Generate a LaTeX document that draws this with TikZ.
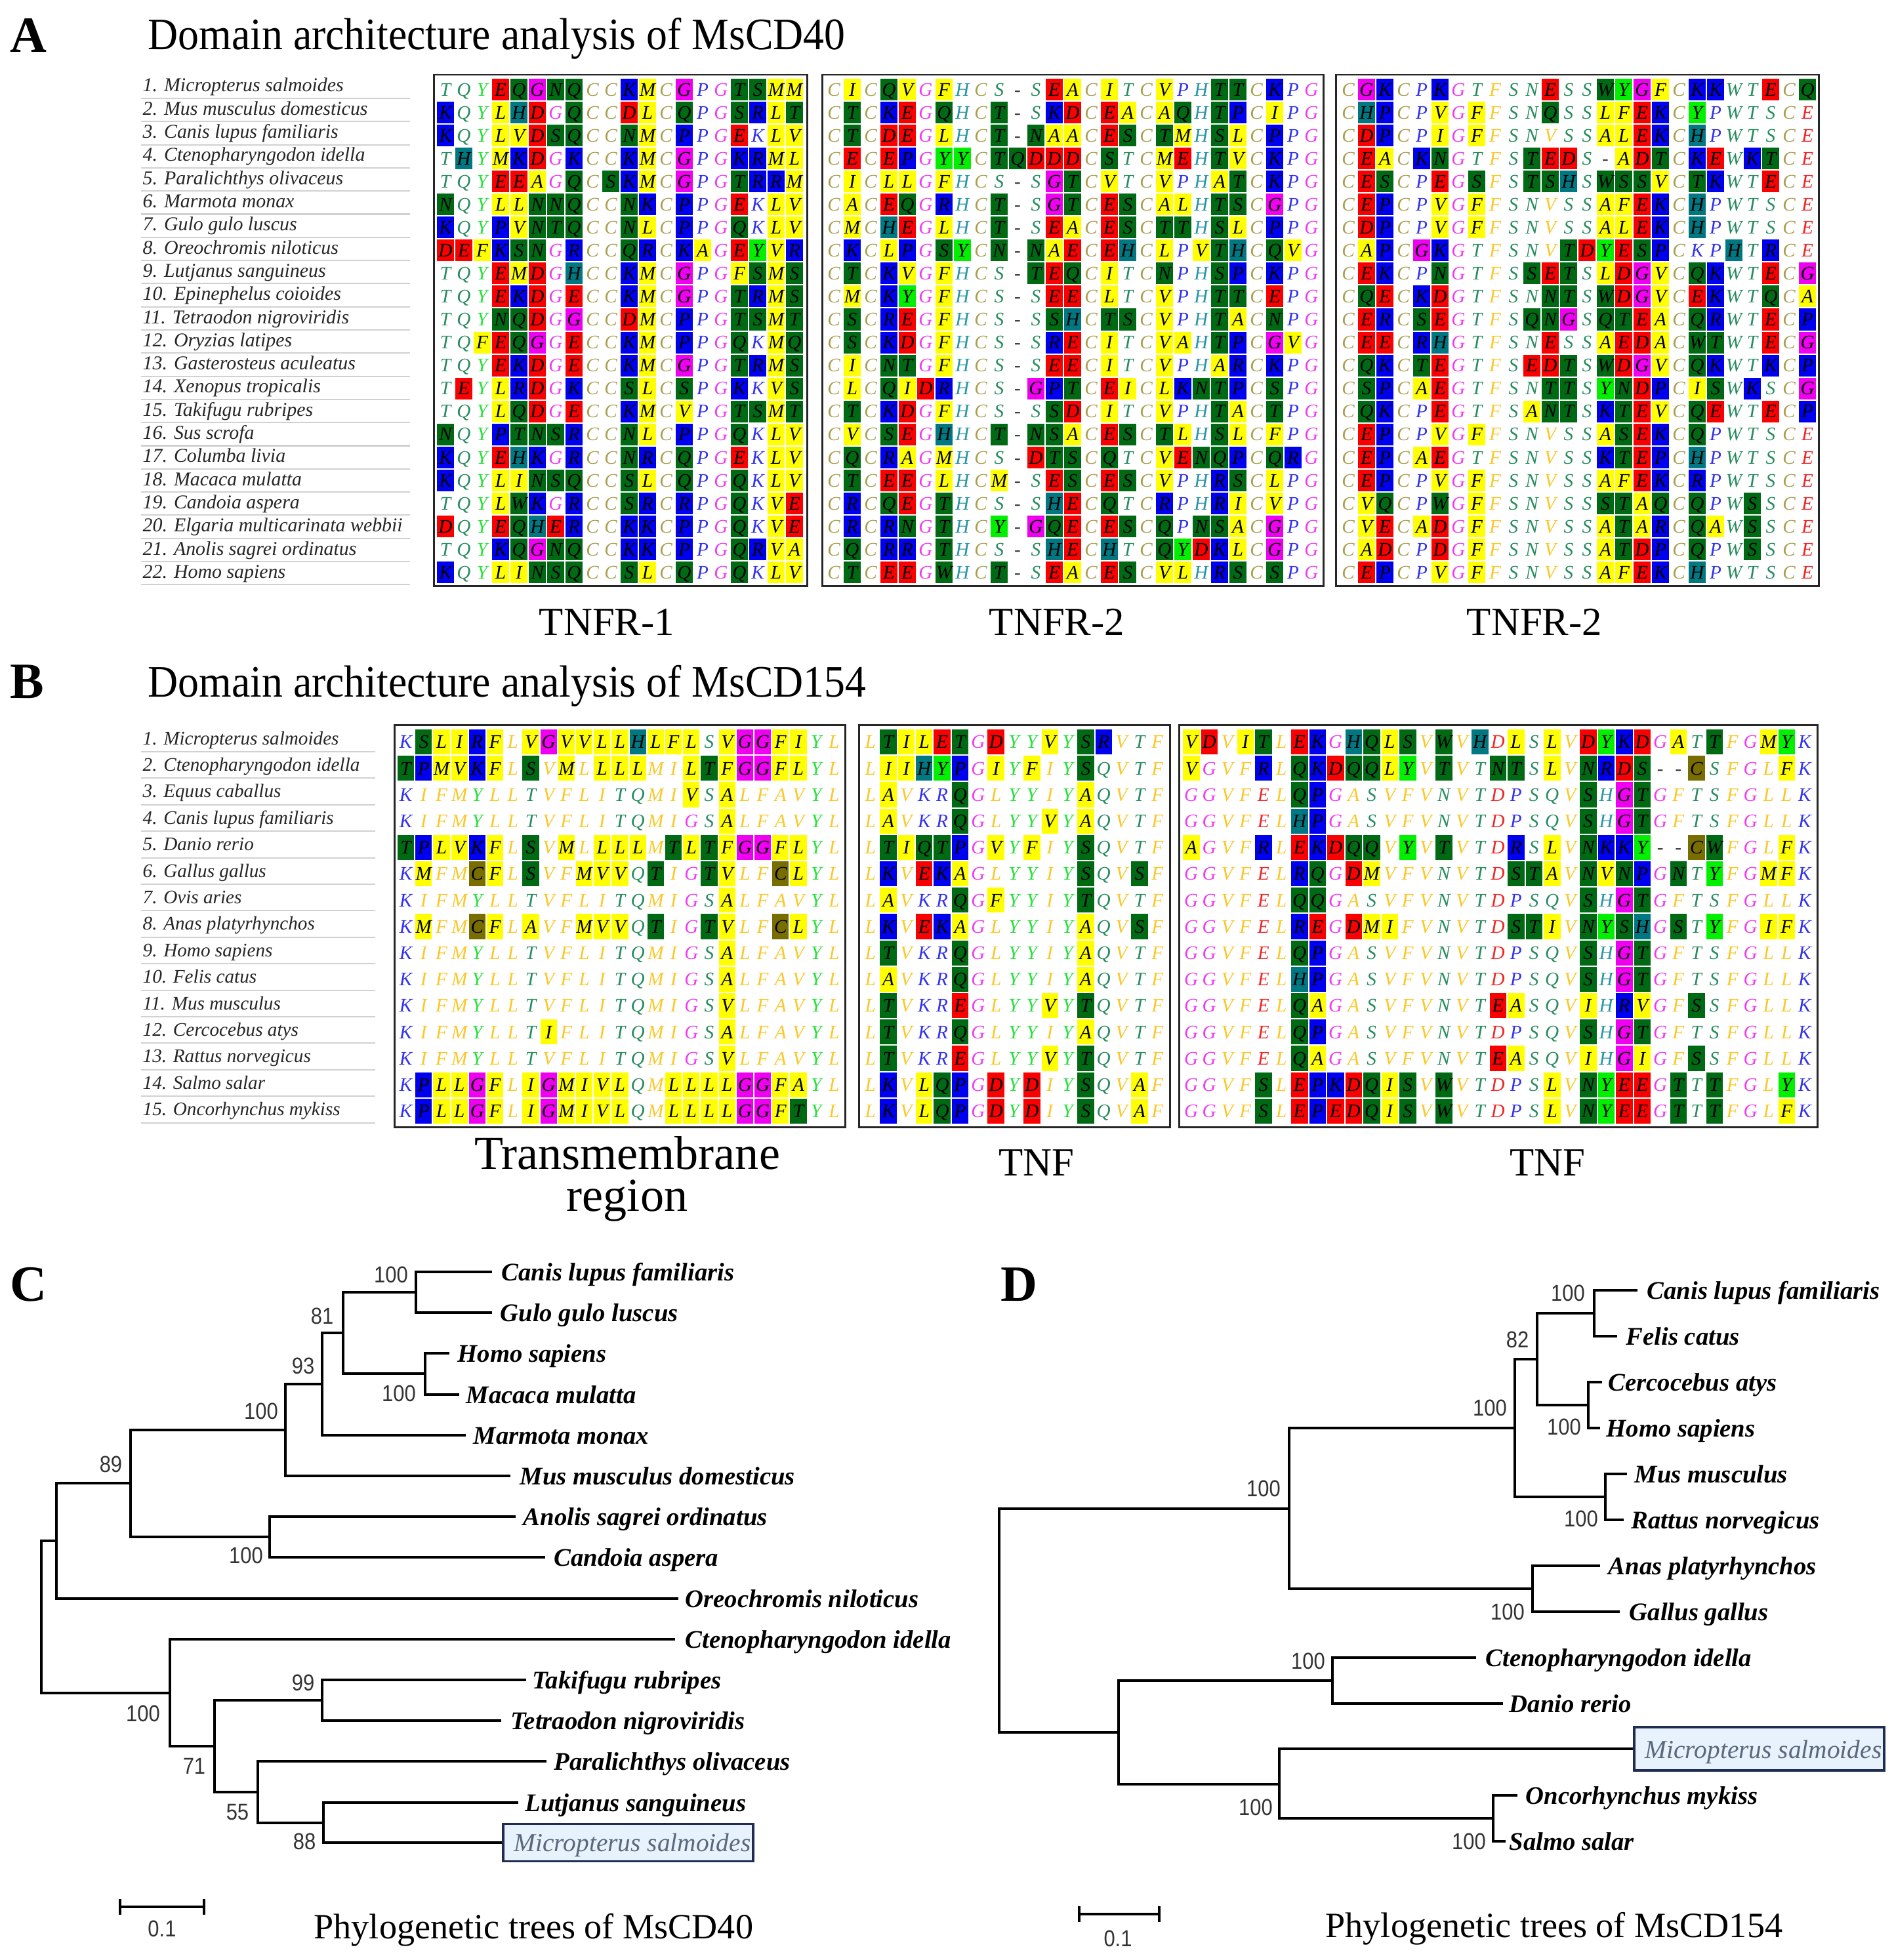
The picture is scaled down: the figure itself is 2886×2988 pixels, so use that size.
\documentclass[tikz,border=0pt]{standalone}
\usepackage{fontspec}
\setmainfont{Liberation Serif}
\setsansfont{Liberation Sans}
\usepackage{graphicx}

% residue text colours
\definecolor{rcHyd}{RGB}{250,200,40}
\definecolor{rcPol}{RGB}{40,140,95}
\definecolor{rcTyr}{RGB}{40,225,60}
\definecolor{rcHis}{RGB}{40,150,165}
\definecolor{rcBas}{RGB}{50,50,240}
\definecolor{rcAci}{RGB}{240,40,40}
\definecolor{rcGly}{RGB}{240,60,240}
\definecolor{rcCys}{RGB}{170,160,80}
\definecolor{rcGap}{RGB}{60,60,60}
% background colours
\definecolor{bgY}{RGB}{255,255,0}
\definecolor{bgG}{RGB}{0,105,20}
\definecolor{bgB}{RGB}{0,0,240}
\definecolor{bgR}{RGB}{250,0,0}
\definecolor{bgM}{RGB}{240,0,240}
\definecolor{bgL}{RGB}{0,240,0}
\definecolor{bgT}{RGB}{0,120,130}
\definecolor{bgO}{RGB}{120,110,0}
\definecolor{msEdge}{RGB}{30,45,80}
\definecolor{msFill}{RGB}{232,242,252}
\definecolor{msText}{RGB}{90,104,124}

\def\setrc#1#2{\expandafter\def\csname rcc#1\endcsname{#2}}
\setrc{A}{rcHyd}\setrc{V}{rcHyd}\setrc{L}{rcHyd}\setrc{I}{rcHyd}\setrc{M}{rcHyd}\setrc{F}{rcHyd}
\setrc{S}{rcPol}\setrc{T}{rcPol}\setrc{N}{rcPol}\setrc{Q}{rcPol}\setrc{W}{rcPol}
\setrc{Y}{rcTyr}\setrc{H}{rcHis}\setrc{K}{rcBas}\setrc{R}{rcBas}\setrc{P}{rcBas}
\setrc{D}{rcAci}\setrc{E}{rcAci}\setrc{G}{rcGly}\setrc{C}{rcCys}\setrc{-}{rcGap}
\def\setbg#1#2{\expandafter\def\csname bgc#1\endcsname{#2}}
\setbg{y}{bgY}\setbg{g}{bgG}\setbg{b}{bgB}\setbg{r}{bgR}\setbg{m}{bgM}\setbg{l}{bgL}\setbg{t}{bgT}\setbg{o}{bgO}

\newcommand\alsetblock[5]{\def\bkx{#1}\def\bky{#2}\def\bkw{#3}\def\bkh{#4}\def\bkn{#5}}
\newcount\alcolc
\def\alrow#1#2#3{\global\alcolc=0 \def\alcurrow{#1}\alloop#2\relax#3\relax}
\def\alloop#1#2\relax#3#4\relax{%
  \alcell{#1}{#3}%
  \global\advance\alcolc by 1
  \def\altmp{#2}%
  \ifx\altmp\empty\let\alnext\relax\else\def\alnext{\alloop#2\relax#4\relax}\fi
  \alnext}
\def\alcell#1#2{%
  \pgfmathsetmacro\alx{\bkx+\bkw*\the\alcolc}%
  \pgfmathsetmacro\aly{\bky+\bkh*(\alcurrow-1)}%
  \edef\alnm{\bkn-\alcurrow-\the\alcolc}%
  \if#2.\relax
    \edef\altc{\csname rcc#1\endcsname}%
  \else
    \edef\altb{\csname bgc#2\endcsname}%
    \fill[fill=\altb] (\alx+1,\aly+1) rectangle (\alx+\bkw-1,\aly+\bkh-1);%
    \def\altc{black}%
  \fi
  \node[alletter,text=\altc,anchor=base] (\alnm) at (\alx+\bkw/2,\aly+\bkh/2+9.7) {#1};%
}
\newcommand\bsv[1]{\scalebox{0.88}[1]{#1}}

\begin{document}
\begin{tikzpicture}[x=0.01cm,y=-0.01cm,
  alletter/.style={inner sep=0pt,font=\fontsize{8.3}{9}\selectfont\itshape},
  alnameA/.style={inner sep=0pt,anchor=base west,font=\fontsize{8.5}{10}\selectfont\itshape,text=black!85},
  alnameB/.style={inner sep=0pt,anchor=base west,font=\fontsize{8.3}{10}\selectfont\itshape,text=black!85},
  sepline/.style={draw=black!18,line width=0.6pt},
  albox/.style={draw=black!85,line width=0.85pt},
  tree/.style={line width=1pt,draw=black},
  leaf/.style={inner sep=0pt,anchor=base west,font=\fontsize{11}{13}\selectfont\bfseries\itshape},
  boot/.style={inner sep=0pt,font=\fontsize{10}{12}\selectfont\sffamily,text=black!80},
  panel/.style={inner sep=0pt,anchor=base west,font=\fontsize{22}{24}\selectfont\bfseries},
  title/.style={inner sep=0pt,anchor=base west,font=\fontsize{19.5}{22}\selectfont},
  blab/.style={inner sep=0pt,anchor=base,font=\fontsize{17.3}{20}\selectfont},
  tmlab/.style={inner sep=0pt,anchor=base,align=center,font=\fontsize{20.5}{18.2}\selectfont},
  treecaption/.style={inner sep=0pt,anchor=base west,font=\fontsize{15.4}{18}\selectfont},
  msbox/.style={draw=msEdge,fill=msFill,line width=1pt,inner sep=0pt,minimum width=3.81cm},
  mstext/.style={inner sep=0pt,anchor=base west,font=\fontsize{11.2}{13}\selectfont\itshape,text=msText}]
\fill[white] (0,0) rectangle (2886,2988);
\useasboundingbox (0,0) rectangle (2886,2988);

% ================= Panel A =================
\node[panel] (pA) at (15,80) {A};
\node[title] (tA) at (225,76) {\scalebox{0.93}[1]{Domain architecture analysis of MsCD40}};
\foreach \nm [count=\i] in {Micropterus salmoides,Mus musculus domesticus,Canis lupus familiaris,Ctenopharyngodon idella,Paralichthys olivaceus,Marmota monax,Gulo gulo luscus,Oreochromis niloticus,Lutjanus sanguineus,Epinephelus coioides,Tetraodon nigroviridis,Oryzias latipes,Gasterosteus aculeatus,Xenopus tropicalis,Takifugu rubripes,Sus scrofa,Columba livia,Macaca mulatta,Candoia aspera,Elgaria multicarinata webbii,Anolis sagrei ordinatus,Homo sapiens}{
  \node[alnameA] (nA\i) at (217,{140+35.3*(\i-1)}) {\i. \nm};
  \draw[sepline] (215,{150+35.3*(\i-1)}) -- (625,{150+35.3*(\i-1)});
}

\alsetblock{665}{119}{28.0}{35.05}{Aa}
\alrow{1}{TQYEQGNQCCKMCGPGTSMM}{...rgmgg..by.m..ggyy}
\alrow{2}{KQYLHDGQCCDLCQPGSRLT}{b..ytr.g..ry.g..gbyg}
\alrow{3}{KQYLVDSQCCNMCPPGEKLV}{b..yyrgg..gy.b..r.yy}
\alrow{4}{THYMKDGKCCKMCGPGKRML}{.t.ybr.b..by.m..bbyy}
\alrow{5}{TQYEEAGQCSKMCGPGTRRM}{...rry.g.gby.m..gbby}
\alrow{6}{NQYLLNNQCCNKCPPGEKLV}{g..yyggg..gb.b..r.yy}
\alrow{7}{KQYPVNTQCCNLCPPGQKLV}{b..byggg..gy.b..g.yy}
\alrow{8}{DEFKSNGRCCQRCKAGEYVR}{rrybgg.b..gb.by.rlyb}
\alrow{9}{TQYEMDGHCCKMCGPGFSMS}{...ryr.t..by.m..ygyg}
\alrow{10}{TQYEKDGECCKMCGPGTRMS}{...rbr.r..by.m..gbyg}
\alrow{11}{TQYNQDGGCCDMCPPGTSMT}{...ggr.m..ry.b..ggyg}
\alrow{12}{TQFEQGGECCKMCPPGQKMQ}{..yrgm.r..by.b..g.yg}
\alrow{13}{TQYEKDGECCKMCGPGTRMS}{...rbr.r..by.m..gbyg}
\alrow{14}{TEYLRDGKCCSLCSPGKKVS}{.r.ybr.b..gy.g..b.yg}
\alrow{15}{TQYLQDGECCKMCVPGTSMT}{...ygr.r..by.y..ggyg}
\alrow{16}{NQYPTNSRCCNLCPPGQKLV}{g..bgggb..gy.b..g.yy}
\alrow{17}{KQYEHKGRCCNRCQPGEKLV}{b..rtb.b..gb.g..r.yy}
\alrow{18}{KQYLINSQCCSLCQPGQKLV}{b..yyggg..gy.g..g.yy}
\alrow{19}{TQYLWKGRCCSRCRPGQKVE}{...ygb.b..gb.b..g.yr}
\alrow{20}{DQYEQHERCCKKCPPGQKVE}{r..rgtrb..bb.b..g.yr}
\alrow{21}{TQYKQGNQCCKKCPPGQRVA}{...bgmgg..bb.b..gbyy}
\alrow{22}{KQYLINSQCCSLCQPGQKLV}{b..yyggg..gy.g..g.yy}
\draw[albox] (661,114) rectangle (1230,893);

\alsetblock{1257}{119}{28.0}{35.05}{Ab}
\alrow{1}{CICQVGFHCS-SEACITCVPHTTCKPG}{.y.gy.y.....ry.y..y..gg.b..}
\alrow{2}{CTCKEGQHCT-SKDCEACAQHTPCIPG}{.g.br.g..g..br.ry.yg.gb.y..}
\alrow{3}{CTCDEGLHCT-NAACESCTMHSLCPPG}{.g.rr.y..g.gyy.rg.gy.gy.b..}
\alrow{4}{CECEPGYYCTQDDDCSTCMEHTVCKPG}{.r.rb.ll.ggrrr.g..yr.gy.b..}
\alrow{5}{CICLLGFHCS-SGTCVTCVPHATCKPG}{.y.yy.y.....mg.y..y..yg.b..}
\alrow{6}{CACEQGRHCT-SGTCESCALHTSCGPG}{.y.rg.b..g..mg.rg.yy.gg.m..}
\alrow{7}{CMCHEGLHCT-SEACESCTTHSLCPPG}{.y.tr.y..g..ry.rg.gg.gy.b..}
\alrow{8}{CKCLPGSYCN-NAECEHCLPVTHCQVG}{.b.yb.gl.g.gyr.rt.y.ygt.gy.}
\alrow{9}{CTCKVGFHCS-TEQCITCNPHSPCKPG}{.g.by.y....grg.y..g..gb.b..}
\alrow{10}{CMCKYGFHCS-SEECLTCVPHTTCEPG}{.y.bl.y.....rr.y..y..gg.r..}
\alrow{11}{CSCREGFHCS-SSHCTSCVPHTACNPG}{.g.br.y.....gt.gg.y..gy.g..}
\alrow{12}{CSCKDGFHCS-SRECITCVAHTPCGVG}{.g.br.y.....br.y..yy.gb.my.}
\alrow{13}{CICNTGFHCS-SEECITCVPHARCKPG}{.y.gg.y.....rr.y..y..yb.b..}
\alrow{14}{CLCQIDRHCS-GPTCEICLKNTPCSPG}{.y.gyrb....mbg.ry.ybggb.g..}
\alrow{15}{CTCKDGFHCS-SSDCITCVPHTACTPG}{.g.br.y.....gr.y..y..gy.g..}
\alrow{16}{CVCSEGHHCT-NSACESCTLHSLCFPG}{.y.gr.t..g.ggy.rg.gy.gy.y..}
\alrow{17}{CQCRAGMHCS-DTSCQTCVENQPCQRG}{.g.by.y....rgg.g..yrggb.gb.}
\alrow{18}{CTCEEGLHCM-SESCESCVPHRSCLPG}{.g.rr.y..y..rg.rg.y..bg.y..}
\alrow{19}{CRCQEGTHCS-SHECQTCRPHRICVPG}{.b.gr.g.....tr.g..b..by.y..}
\alrow{20}{CRCRNGTHCY-GQECESCQPNSACGPG}{.b.bg.g..l.mgr.rg.g.ggy.m..}
\alrow{21}{CQCRRGTHCS-SHECHTCQYDKLCGPG}{.g.bb.g.....tr.t..glrby.m..}
\alrow{22}{CTCEEGWHCT-SEACESCVLHRSCSPG}{.g.rr.g..g..ry.rg.yy.bg.g..}
\draw[albox] (1253,114) rectangle (2017,893);

\alsetblock{2041}{119}{28.0}{35.05}{Ac}
\alrow{1}{CGKCPKGTFSNESSWYGFCKKWTECQ}{.mb..b.....r..glmy.bb..r.g}
\alrow{2}{CHPCPVGFFSNQSSLFEKCYPWTSCE}{.tb..y.y...g..yyrb.l......}
\alrow{3}{CDPCPIGFFSNVSSALEKCHPWTSCE}{.rb..y.y......yyrb.t......}
\alrow{4}{CEACKNGTFSTEDS-ADTCKEWKTCE}{.ry.bg....grr..yrg.br.bg..}
\alrow{5}{CESCPEGSFSTSHSWSSVCTKWTECE}{.rg..r.g..ggt.gggy.gb..r..}
\alrow{6}{CEPCPVGFFSNVSSAFEKCHPWTSCE}{.rb..y.y......yyrb.t......}
\alrow{7}{CDPCPVGFFSNVSSALEKCHPWTSCE}{.rb..y.y......yyrb.t......}
\alrow{8}{CAPCGKGTFSNVTDYESPCKPHTRCE}{.yb.mb......grlrgb...t.b..}
\alrow{9}{CEKCPNGTFSSETSLDGVCQKWTECG}{.rb..g....grg.yrmy.gb..r.m}
\alrow{10}{CQECKDGTFSNNTSWDGVCEKWTQCA}{.gr.br.....gg.grmy.rb..g.y}
\alrow{11}{CERCSEGTFSQNGSQTEACQRWTECP}{.rb.gr....ggm.ggry.gb..r.b}
\alrow{12}{CEECRHGTFSNESSAEDACWTWTECG}{.rr.bt.....r..yrry.gg..r.m}
\alrow{13}{CQKCTEGTFSEDTSWDGVCQKWTKCP}{.gb.gr....rrg.grmy.gb..b.b}
\alrow{14}{CSPCAEGTFSNTTSYNDPCISWKSCG}{.gb.yr.....gg.lgrb.yg.b..m}
\alrow{15}{CQKCPEGTFSANTSKTEVCQEWTECP}{.gb..r....ygg.bgry.gr..r.b}
\alrow{16}{CEPCPVGFFSNVSSASEKCQPWTSCE}{.rb..y.y......ygrb.g......}
\alrow{17}{CEPCAEGTFSNVSSKTEPCHPWTSCE}{.rb.yr........bgrb.t......}
\alrow{18}{CEPCPVGFFSNVSSAFEKCRPWTSCE}{.rb..y.y......yyrb.b......}
\alrow{19}{CVQCPWGFFSNVSSSTAQCQPWSSCE}{.yg..g.y......ggyg.g..g...}
\alrow{20}{CVECADGFFSNVSSATARCQAWSSCE}{.yr.yr.y......ygyb.gy.g...}
\alrow{21}{CADCPDGFFSNVSSATDPCQPWSSCE}{.yr..r.y......ygrb.g..g...}
\alrow{22}{CEPCPVGFFSNVSSAFEKCHPWTSCE}{.rb..y.y......yyrb.t......}
\draw[albox] (2036,114) rectangle (2772,893);

\node[blab] (lA1) at (925,968) {TNFR-1};
\node[blab] (lA2) at (1611,968) {TNFR-2};
\node[blab] (lA3) at (2339,968) {TNFR-2};

% ================= Panel B =================
\node[panel] (pB) at (15,1064) {B};
\node[title] (tB) at (225,1062) {\scalebox{0.93}[1]{Domain architecture analysis of MsCD154}};
\foreach \nm [count=\i] in {Micropterus salmoides,Ctenopharyngodon idella,Equus caballus,Canis lupus familiaris,Danio rerio,Gallus gallus,Ovis aries,Anas platyrhynchos,Homo sapiens,Felis catus,Mus musculus,Cercocebus atys,Rattus norvegicus,Salmo salar,Oncorhynchus mykiss}{
  \node[alnameB] (nB\i) at (217,{1135+40.4*(\i-1)}) {\i. \nm};
  \draw[sepline] (215,{1146+40.4*(\i-1)}) -- (572,{1146+40.4*(\i-1)});
}

\alsetblock{605}{1111}{27.2}{40.2}{Ba}
\alrow{1}{KSLIRFLVGVVLLHLFLSVGGFIYL}{.gyyby.ymyyyytyyy.ymmyy..}
\alrow{2}{TPMVKFLSVMLLLLMILTFGGFLYL}{gbyyby.g.y.yyy..ygymmyy..}
\alrow{3}{KIFMYLLTVFLITQMIVSALFAVYL}{................y.y......}
\alrow{4}{KIFMYLLTVFLITQMIGSALFAVYL}{..................y......}
\alrow{5}{TPLVKFLSVMLLLLMTLTFGGFLYL}{gbyyby.g.y.yyy.gygymmyy..}
\alrow{6}{KMFMCFLSVFMVVQTIGTVLFCLYL}{.y..oy.g..yyy.g..gy..oy..}
\alrow{7}{KIFMYLLTVFLITQMIGSALFAVYL}{..................y......}
\alrow{8}{KMFMCFLAVFMVVQTIGTVLFCLYL}{.y..oy.y..yyy.g..gy..oy..}
\alrow{9}{KIFMYLLTVFLITQMIGSALFAVYL}{..................y......}
\alrow{10}{KIFMYLLTVFLITQMIGSALFAVYL}{..................y......}
\alrow{11}{KIFMYLLTVFLITQMIGSVLFAVYL}{..................y......}
\alrow{12}{KIFMYLLTIFLITQMIGSALFAVYL}{........y.........y......}
\alrow{13}{KIFMYLLTVFLITQMIGSVLFAVYL}{..................y......}
\alrow{14}{KPLLGFLIGMIVLQMLLLLGGFAYL}{.byymy.ymyyyy..yyyymmyy..}
\alrow{15}{KPLLGFLIGMIVLQMLLLLGGFTYL}{.byymy.ymyyyy..yyyymmyg..}
\draw[albox] (601,1105) rectangle (1288,1718);

\alsetblock{1313}{1111}{27.35}{40.2}{Bb}
\alrow{1}{LTILETGDYYVYSRVTF}{.gyyrg.r..y.gb...}
\alrow{2}{LIIHYPGIYFIYSQVTF}{.yytlb.y.y..g....}
\alrow{3}{LAVKRQGLYYIYAQVTF}{.y...g......y....}
\alrow{4}{LAVKRQGLYYVYAQVTF}{.y...g....y.y....}
\alrow{5}{LTIQTPGVYFIYSQVTF}{.gyggb.y.y..g....}
\alrow{6}{LKVEKAGLYYIYSQVSF}{.b.rby......g..g.}
\alrow{7}{LAVKRQGFYYIYTQVTF}{.y...g.y....g....}
\alrow{8}{LKVEKAGLYYIYAQVSF}{.b.rby......y..g.}
\alrow{9}{LTVKRQGLYYIYAQVTF}{.g...g......y....}
\alrow{10}{LAVKRQGLYYIYAQVTF}{.y...g......y....}
\alrow{11}{LTVKREGLYYVYTQVTF}{.g...r....y.g....}
\alrow{12}{LTVKRQGLYYIYAQVTF}{.g...g......y....}
\alrow{13}{LTVKREGLYYVYTQVTF}{.g...r....y.g....}
\alrow{14}{LKVLQPGDYDIYSQVAF}{.b.ygb.r.r..g..y.}
\alrow{15}{LKVLQPGDYDIYSQVAF}{.b.ygb.r.r..g..y.}
\draw[albox] (1309,1105) rectangle (1783,1718);

\alsetblock{1802}{1111}{27.5}{40.2}{Bc}
\alrow{1}{VDVITLEKGHQLSVWVHDLSLVDYKDGATTFGMYK}{yr.yg.rb.tgyg.g.t.y.y.rlbr.y.g..yl.}
\alrow{2}{VGVFRLQKDQQLYVTVTNTSLVNRDS--CSFGLFK}{y...b.gbrggyl.g..gg.y.gbrg..o....y.}
\alrow{3}{GGVFELQPGASVFVNVTDPSQVSHGTGFTSFGLLK}{......gb..............g.mg.........}
\alrow{4}{GGVFELHPGASVFVNVTDPSQVSHGTGFTSFGLLK}{......tb..............g.mg.........}
\alrow{5}{AGVFRLEKDQQVYVTVTDRSLVNKKY--CWFGLFK}{y...b.rbrgg.l.g...b.y.gbbl..og...y.}
\alrow{6}{GGVFELRQGDMVFVNVTDSTAVNVNPGNTYFGMFK}{......bg.ry.......ggy.gygb.g.l..yy.}
\alrow{7}{GGVFELQQGASVFVNVTDPSQVSHGTGFTSFGLLK}{......gg..............g.mg.........}
\alrow{8}{GGVFELREGDMIFVNVTDSTIVNYSHGSTYFGIFK}{......br.ryy......ggy.glgt.g.l..yy.}
\alrow{9}{GGVFELQPGASVFVNVTDPSQVSHGTGFTSFGLLK}{......gb..............g.mg.........}
\alrow{10}{GGVFELHPGASVFVNVTDPSQVSHGTGFTSFGLLK}{......tb..............g.mg.........}
\alrow{11}{GGVFELQAGASVFVNVTEASQVIHRVGFSSFGLLK}{......gy.........ry...y.by..g......}
\alrow{12}{GGVFELQPGASVFVNVTDPSQVSHGTGFTSFGLLK}{......gb..............g.mg.........}
\alrow{13}{GGVFELQAGASVFVNVTEASQVIHGIGFSSFGLLK}{......gy.........ry...y.my..g......}
\alrow{14}{GGVFSLEPKDQISVWVTDPSLVNYEEGTTTFGLYK}{....g.rbbrgyg.g.....y.glrr.g.g...l.}
\alrow{15}{GGVFSLEPEDQISVWVTDPSLVNYEEGTTTFGLFK}{....g.rbrrgyg.g.....y.glrr.g.g...y.}
\draw[albox] (1797,1105) rectangle (2770,1718);

\node[tmlab] (lB1) at (956,1846) {Transmembrane\\region};
\node[blab] (lB2) at (1580,1792) {TNF};
\node[blab] (lB3) at (2359,1792) {TNF};

% ================= Panel C =================
\node[panel] (pC) at (15,1983) {C};
\coordinate (cR) at (63,2465);
\coordinate (cU) at (86,2349);
\coordinate (c89) at (199,2261);
\coordinate (c100a) at (435,2180);
\coordinate (c93) at (491,2110);
\coordinate (c81) at (523,2032);
\coordinate (cCG) at (634,1970);
\coordinate (cHM) at (648,2094);
\coordinate (cAC) at (411,2343);
\coordinate (cF) at (259,2581);
\coordinate (c71) at (327,2662);
\coordinate (c99) at (491,2592);
\coordinate (c55) at (393,2732);
\coordinate (c88) at (493,2779);
\coordinate (cCanis) at (750,1939);
\coordinate (cGulo) at (750,2001);
\coordinate (cHomo) at (685,2063);
\coordinate (cMac) at (700,2126);
\coordinate (cMarm) at (710,2188);
\coordinate (cMus) at (778,2250);
\coordinate (cAnol) at (786,2312);
\coordinate (cCand) at (831,2374);
\coordinate (cOreo) at (1034,2437);
\coordinate (cCten) at (1029,2499);
\coordinate (cTaki) at (802,2561);
\coordinate (cTetr) at (764,2623);
\coordinate (cPara) at (833,2685);
\coordinate (cLutj) at (790,2748);
\node[msbox,minimum height=0.57cm] (boxC) at (957.5,2809) {};

\draw[tree] (cR) |- (cU); \draw[tree] (cR) |- (cF);
\draw[tree] (cU) |- (c89); \draw[tree] (cU) |- (cOreo);
\draw[tree] (c89) |- (c100a); \draw[tree] (c89) |- (cAC);
\draw[tree] (c100a) |- (c93); \draw[tree] (c100a) |- (cMus);
\draw[tree] (c93) |- (c81); \draw[tree] (c93) |- (cMarm);
\draw[tree] (c81) |- (cCG); \draw[tree] (c81) |- (cHM);
\draw[tree] (cCG) |- (cCanis); \draw[tree] (cCG) |- (cGulo);
\draw[tree] (cHM) |- (cHomo); \draw[tree] (cHM) |- (cMac);
\draw[tree] (cAC) |- (cAnol); \draw[tree] (cAC) |- (cCand);
\draw[tree] (cF) |- (cCten); \draw[tree] (cF) |- (c71);
\draw[tree] (c71) |- (c99); \draw[tree] (c71) |- (c55);
\draw[tree] (c99) |- (cTaki); \draw[tree] (c99) |- (cTetr);
\draw[tree] (c55) |- (cPara); \draw[tree] (c55) |- (c88);
\draw[tree] (c88) |- (cLutj); \draw[tree] (c88) |- (boxC.west);

\node[leaf] (tCanis) at (764,1952) {Canis lupus familiaris};
\node[leaf] (tGulo) at (762,2014) {Gulo gulo luscus};
\node[leaf] (tHomo) at (697,2076) {Homo sapiens};
\node[leaf] (tMac) at (710,2139) {Macaca mulatta};
\node[leaf] (tMarm) at (721,2201) {Marmota monax};
\node[leaf] (tMus) at (792,2263) {Mus musculus domesticus};
\node[leaf] (tAnol) at (797,2325) {Anolis sagrei ordinatus};
\node[leaf] (tCand) at (844,2387) {Candoia aspera};
\node[leaf] (tOreo) at (1044,2450) {Oreochromis niloticus};
\node[leaf] (tCten) at (1044,2512) {Ctenopharyngodon idella};
\node[leaf] (tTaki) at (811,2574) {Takifugu rubripes};
\node[leaf] (tTetr) at (778,2636) {Tetraodon nigroviridis};
\node[leaf] (tPara) at (844,2698) {Paralichthys olivaceus};
\node[leaf] (tLutj) at (800,2761) {Lutjanus sanguineus};
\node[mstext] (tMicC) at (783,2822) {Micropterus salmoides};

\node[boot] (bC1) at (596,1943) {\bsv{100}};
\node[boot] (bC2) at (491,2006) {\bsv{81}};
\node[boot] (bC3) at (462,2082) {\bsv{93}};
\node[boot] (bC4) at (608,2124) {\bsv{100}};
\node[boot] (bC5) at (398,2151) {\bsv{100}};
\node[boot] (bC6) at (169,2232) {\bsv{89}};
\node[boot] (bC7) at (375,2371) {\bsv{100}};
\node[boot] (bC8) at (462,2565) {\bsv{99}};
\node[boot] (bC9) at (218,2612) {\bsv{100}};
\node[boot] (bC10) at (296,2692) {\bsv{71}};
\node[boot] (bC11) at (362,2763) {\bsv{55}};
\node[boot] (bC12) at (464,2807) {\bsv{88}};

\coordinate (sbC1) at (183,2907);
\coordinate (sbC2) at (311,2907);
\draw[tree] (sbC1) -- (sbC2);
\draw[tree] (183,2895) -- (183,2919);
\draw[tree] (311,2895) -- (311,2919);
\node[boot] (sC) at (247,2940) {\bsv{0.1}};
\node[treecaption] (capC) at (478,2955) {Phylogenetic trees of MsCD40};

% ================= Panel D =================
\node[panel] (pD) at (1525,1983) {D};
\coordinate (dR) at (1523,2470);
\coordinate (dT) at (1965,2300);
\coordinate (dMam) at (2309,2177);
\coordinate (d82) at (2343,2072);
\coordinate (dCF) at (2430,2002);
\coordinate (dCH) at (2421,2142);
\coordinate (dMR) at (2447,2282);
\coordinate (dB) at (2336,2422);
\coordinate (dFish) at (1705,2641);
\coordinate (dCD) at (2031,2562);
\coordinate (dMS) at (1950,2720);
\coordinate (dSal) at (2276,2772);
\coordinate (dCanis) at (2496,1967);
\coordinate (dFelis) at (2465,2037);
\coordinate (dCerc) at (2442,2107);
\coordinate (dHomo) at (2439,2177);
\coordinate (dMus) at (2480,2247);
\coordinate (dRat) at (2475,2317);
\coordinate (dAnas) at (2439,2387);
\coordinate (dGall) at (2469,2457);
\coordinate (dCten) at (2250,2527);
\coordinate (dDan) at (2291,2597);
\coordinate (dOnc) at (2313,2737);
\coordinate (dSalm) at (2295,2807);
\node[msbox,minimum height=0.66cm] (boxD) at (2681.5,2666) {};

\draw[tree] (dR) |- (dT); \draw[tree] (dR) |- (dFish);
\draw[tree] (dT) |- (dMam); \draw[tree] (dT) |- (dB);
\draw[tree] (dMam) |- (d82); \draw[tree] (dMam) |- (dMR);
\draw[tree] (d82) |- (dCF); \draw[tree] (d82) |- (dCH);
\draw[tree] (dCF) |- (dCanis); \draw[tree] (dCF) |- (dFelis);
\draw[tree] (dCH) |- (dCerc); \draw[tree] (dCH) |- (dHomo);
\draw[tree] (dMR) |- (dMus); \draw[tree] (dMR) |- (dRat);
\draw[tree] (dB) |- (dAnas); \draw[tree] (dB) |- (dGall);
\draw[tree] (dFish) |- (dCD); \draw[tree] (dFish) |- (dMS);
\draw[tree] (dCD) |- (dCten); \draw[tree] (dCD) |- (dDan);
\draw[tree] (dMS) |- (boxD.west); \draw[tree] (dMS) |- (dSal);
\draw[tree] (dSal) |- (dOnc); \draw[tree] (dSal) |- (dSalm);

\node[leaf] (uCanis) at (2510,1980) {Canis lupus familiaris};
\node[leaf] (uFelis) at (2478,2050) {Felis catus};
\node[leaf] (uCerc) at (2451,2120) {Cercocebus atys};
\node[leaf] (uHomo) at (2448,2190) {Homo sapiens};
\node[leaf] (uMus) at (2491,2260) {Mus musculus};
\node[leaf] (uRat) at (2486,2330) {Rattus norvegicus};
\node[leaf] (uAnas) at (2451,2400) {Anas platyrhynchos};
\node[leaf] (uGall) at (2483,2470) {Gallus gallus};
\node[leaf] (uCten) at (2264,2540) {Ctenopharyngodon idella};
\node[leaf] (uDan) at (2300,2610) {Danio rerio};
\node[mstext] (uMicD) at (2507,2680) {Micropterus salmoides};
\node[leaf] (uOnc) at (2325,2750) {Oncorhynchus mykiss};
\node[leaf] (uSalm) at (2300,2820) {Salmo salar};

\node[boot] (bD1) at (2390,1971) {\bsv{100}};
\node[boot] (bD2) at (2313,2042) {\bsv{82}};
\node[boot] (bD3) at (2271,2146) {\bsv{100}};
\node[boot] (bD4) at (2384,2175) {\bsv{100}};
\node[boot] (bD5) at (2410,2315) {\bsv{100}};
\node[boot] (bD6) at (1926,2269) {\bsv{100}};
\node[boot] (bD7) at (2298,2457) {\bsv{100}};
\node[boot] (bD8) at (1994,2532) {\bsv{100}};
\node[boot] (bD9) at (1914,2755) {\bsv{100}};
\node[boot] (bD10) at (2239,2807) {\bsv{100}};

\coordinate (sbD1) at (1645,2918);
\coordinate (sbD2) at (1767,2918);
\draw[tree] (sbD1) -- (sbD2);
\draw[tree] (1645,2906) -- (1645,2930);
\draw[tree] (1767,2906) -- (1767,2930);
\node[boot] (sD) at (1704,2955) {\bsv{0.1}};
\node[treecaption] (capD) at (2020,2953) {Phylogenetic trees of MsCD154};
\end{tikzpicture}
\end{document}
